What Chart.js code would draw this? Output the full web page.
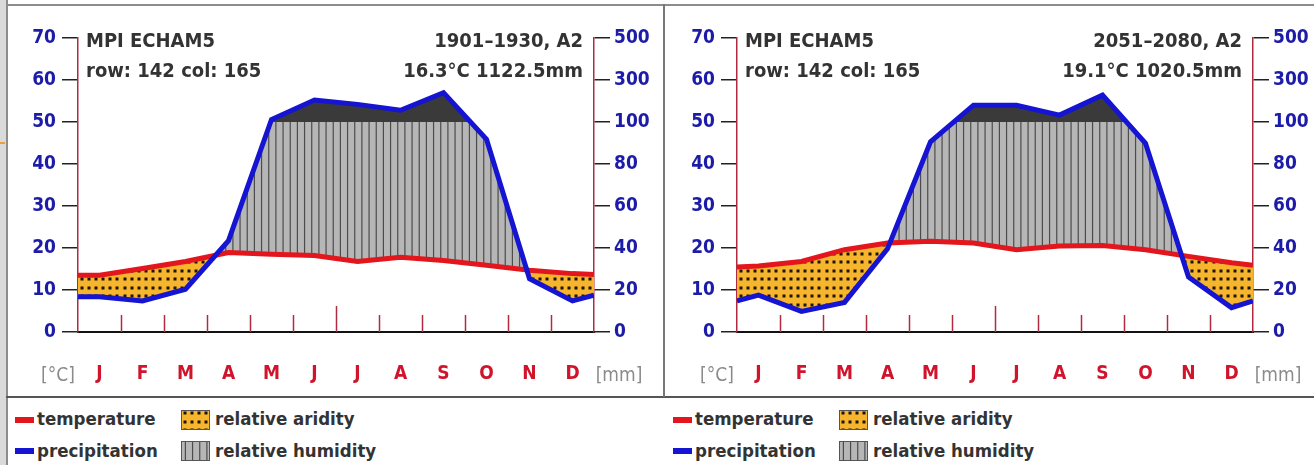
<!DOCTYPE html>
<html>
<head>
<meta charset="utf-8">
<script src="https://cdn.jsdelivr.net/npm/chart.js@4.4.1/dist/chart.umd.min.js"></script>
<style>
  body { margin: 0; width: 1314px; height: 465px; background: #fff; position: relative; overflow: hidden;
         font-family: 'DejaVu Sans Condensed', 'Liberation Sans Narrow', 'DejaVu Sans', sans-serif; }
  .abs { position: absolute; }
  canvas.chart { position: absolute; top: 6px; }
  .leg { position: absolute; font-weight: bold; font-size: 18.5px; color: #333; line-height: 20px; white-space: nowrap; }
</style>
</head>
<body>
<div class="abs" style="left:0;top:0;width:6px;height:465px;background:#dadada"></div>
<div class="abs" style="left:0;top:142px;width:5px;height:2px;background:#e8a040"></div>
<div class="abs" style="left:6px;top:0;width:2px;height:465px;background:#8c8c8c"></div>
<div class="abs" style="left:6px;top:4px;width:1308px;height:2px;background:#8c8c8c"></div>
<div class="abs" style="left:6px;top:396px;width:1308px;height:2px;background:#555"></div>
<div class="abs" style="left:663px;top:4px;width:2px;height:393px;background:#777"></div>

<canvas class="chart" id="chart-1901" width="655" height="390" style="left:8px"></canvas>
<canvas class="chart" id="chart-2051" width="649" height="390" style="left:665px"></canvas>

<div id="legend"></div>

<script>
const months = ['J', 'F', 'M', 'A', 'M', 'J', 'J', 'A', 'S', 'O', 'N', 'D'];

// 1901-1930, A2
const temp1901 = [13.5, 15.1, 16.8, 18.9, 18.5, 18.2, 16.8, 17.8, 17.0, 15.9, 14.7, 13.9];
const prec1901 = [16.8, 14.8, 20.4, 43.5, 112, 205, 184, 156, 240, 91.8, 25.4, 14.8];
const tempEdge1901 = [13.5, 13.7];   // value where the line meets the left / right frame
const precEdge1901 = [16.8, 17.6];

// 2051-2080, A2
const temp2051 = [15.7, 16.8, 19.6, 21.2, 21.6, 21.2, 19.6, 20.5, 20.6, 19.6, 18.0, 16.5];
const prec2051 = [17.6, 9.8, 14.1, 39.6, 90.6, 180, 180, 133, 228, 89.9, 26.2, 11.6];
const tempEdge2051 = [15.5, 15.9];
const precEdge2051 = [14.8, 14.8];

const tempTicks = [0, 10, 20, 30, 40, 50, 60, 70];
const mmTicks = ['0', '20', '40', '60', '80', '100', '300', '500'];

const FONT = "'DejaVu Sans Condensed', 'Liberation Sans Narrow', 'DejaVu Sans', sans-serif";
Chart.defaults.font.family = FONT;

const RED = '#e2161c', BLUE = '#1414d2', AXIS_RED = '#b02a40', TICK_BLUE = '#1c1ca8';
const MONTH_W = 43;
const TOP = 32, PLOT_H = 294;   // 4.2 px per degree keeps the 50 line on a whole pixel

// walter-lieth scale: 10 degC = 20 mm, above 100 mm compressed 1:20
const mmToScale = (mm) => mm <= 100 ? mm / 2 : 50 + (mm - 100) / 20;

const toPoints = (values, edges, conv) => {
    const f = conv || ((v) => v);
    const pts = [{x: 0, y: f(edges[0])}];
    values.forEach((v, i) => pts.push({x: i + 0.5, y: f(v)}));
    pts.push({x: 12, y: f(edges[1])});
    return pts;
};

const makeHumidity = (ctx, left) => {
    const c = document.createElement('canvas');
    c.width = MONTH_W; c.height = 4;
    const g = c.getContext('2d');
    g.fillStyle = '#b6b6b6';
    g.fillRect(0, 0, c.width, c.height);
    g.fillStyle = '#4c4c4c';
    for (let k = 0; k < 6; k++) {
        g.fillRect(4.4 + k * MONTH_W / 6 - 0.6, 0, 1.2, c.height);
    }
    const p = ctx.createPattern(c, 'repeat');
    p.setTransform(new DOMMatrix([1, 0, 0, 1, left, 0]));
    return p;
};

const makeAridity = (ctx, left, top) => {
    const c = document.createElement('canvas');
    c.width = MONTH_W; c.height = 17;
    const g = c.getContext('2d');
    g.fillStyle = '#f6b52c';
    g.fillRect(0, 0, c.width, c.height);
    g.fillStyle = '#1d1408';
    for (let k = 0; k < 6; k++) {
        for (let j = 0; j < 2; j++) {
            g.fillRect(Math.round(3.6 + k * MONTH_W / 6) - 1.5, Math.round(3 + j * 8.5) - 1.5, 3, 3);
        }
    }
    const p = ctx.createPattern(c, 'repeat');
    p.setTransform(new DOMMatrix([1, 0, 0, 1, left, top]));
    return p;
};

const frameDecor = {
    id: 'frameDecor',
    beforeDatasetsDraw(chart, args, opts) {
        const {ctx} = chart;
        const x = chart.scales.x, y = chart.scales.y;
        const y0 = y.getPixelForValue(0);
        ctx.save();
        ctx.strokeStyle = AXIS_RED;
        ctx.lineWidth = 1.5;
        for (let m = 1; m < 12; m++) {
            const px = Math.round(x.getPixelForValue(m)) + 0.5;
            ctx.beginPath();
            ctx.moveTo(px, y0);
            ctx.lineTo(px, y0 - (m === 6 ? 26 : 17));
            ctx.stroke();
        }
        ctx.restore();
    },
    afterDraw(chart, args, opts) {
        const {ctx, chartArea} = chart;
        ctx.save();
        ctx.font = 'bold 20px ' + FONT;
        ctx.fillStyle = '#333';
        ctx.textBaseline = 'alphabetic';
        ctx.textAlign = 'left';
        ctx.fillText(opts.model, chartArea.left + 8, 41);
        ctx.fillText(opts.cell, chartArea.left + 8, 71);
        ctx.textAlign = 'right';
        ctx.fillText(opts.period, chartArea.right - 11, 41);
        ctx.fillText(opts.stats, chartArea.right - 11, 71);

        ctx.font = '19px ' + FONT;
        ctx.fillStyle = '#8a8a8a';
        ctx.textAlign = 'center';
        ctx.fillText('[°C]', chartArea.left - 20, 375);
        ctx.fillText('[mm]', chartArea.right + 25, 375);
        ctx.restore();
    }
};

const buildChart = (id, temp, tempEdge, prec, precEdge, leftW, rightW, header) => {
    const ctx = document.getElementById(id).getContext('2d');
    const humid = makeHumidity(ctx, leftW);
    const arid = makeAridity(ctx, leftW, TOP);
    const precPts = toPoints(prec, precEdge, mmToScale);

    return new Chart(ctx, {
        type: 'line',
        data: {
            datasets: [
                {
                    label: 'temperature',
                    data: toPoints(temp, tempEdge),
                    borderColor: RED,
                    borderWidth: 5,
                    pointRadius: 0,
                    fill: false,
                    order: 2,
                },
                {
                    label: 'precipitation',
                    data: precPts,
                    borderColor: BLUE,
                    borderWidth: 5,
                    pointRadius: 0,
                    fill: {target: {value: 50}, above: '#3a3a3a', below: 'rgba(0,0,0,0)'},
                    order: 1,
                },
                {
                    label: 'humidity / aridity',
                    data: precPts,
                    borderWidth: 0,
                    borderColor: 'rgba(0,0,0,0)',
                    pointRadius: 0,
                    fill: {target: 0, above: humid, below: arid},
                    order: 3,
                }
            ]
        },
        options: {
            responsive: false,
            animation: false,
            layout: {padding: {top: TOP, left: 0, right: 0, bottom: 0}},
            plugins: {
                legend: {display: false},
                tooltip: {enabled: false},
                frameDecor: header,
            },
            scales: {
                x: {
                    type: 'linear',
                    min: 0,
                    max: 12,
                    afterBuildTicks: (s) => { s.ticks = months.map((m, i) => ({value: i + 0.5})); },
                    afterFit: (s) => { s.height = 390 - TOP - PLOT_H; },
                    grid: {display: false, drawTicks: false},
                    border: {display: true, color: '#111', width: 2},
                    ticks: {
                        autoSkip: false,
                        maxRotation: 0,
                        padding: 31,
                        color: '#d0142c',
                        font: {size: 19, weight: 'bold'},
                        callback: (v, i) => months[i],
                    },
                },
                y: {
                    position: 'left',
                    min: 0,
                    max: 70,
                    afterBuildTicks: (s) => { s.ticks = tempTicks.map((v) => ({value: v})); },
                    afterFit: (s) => { s.width = leftW; },
                    grid: {drawOnChartArea: false, tickLength: 16, color: '#222', lineWidth: 1.5},
                    border: {color: AXIS_RED, width: 1.5},
                    ticks: {padding: 6, color: TICK_BLUE, font: {size: 19, weight: 'bold'}},
                },
                y2: {
                    position: 'right',
                    min: 0,
                    max: 70,
                    afterBuildTicks: (s) => { s.ticks = tempTicks.map((v) => ({value: v})); },
                    afterFit: (s) => { s.width = rightW; },
                    grid: {drawOnChartArea: false, tickLength: 16, color: '#222', lineWidth: 1.5},
                    border: {color: AXIS_RED, width: 1.5},
                    ticks: {
                        padding: 4,
                        color: TICK_BLUE,
                        font: {size: 19, weight: 'bold'},
                        callback: (v, i) => mmTicks[i],
                    },
                },
            },
        },
        plugins: [frameDecor],
    });
};

buildChart('chart-1901', temp1901, tempEdge1901, prec1901, precEdge1901, 70, 69,
    {model: 'MPI ECHAM5', cell: 'row: 142 col: 165', period: '1901–1930, A2', stats: '16.3°C 1122.5mm'});
buildChart('chart-2051', temp2051, tempEdge2051, prec2051, precEdge2051, 72, 61,
    {model: 'MPI ECHAM5', cell: 'row: 142 col: 165', period: '2051–2080, A2', stats: '19.1°C 1020.5mm'});

// legend (one under each panel)
const legend = document.getElementById('legend');
const swatch = (left, top, w, h, draw) => {
    const c = document.createElement('canvas');
    c.width = w; c.height = h;
    c.className = 'abs';
    c.style.left = left + 'px';
    c.style.top = top + 'px';
    draw(c.getContext('2d'), w, h);
    legend.appendChild(c);
};
const label = (left, top, text) => {
    const d = document.createElement('div');
    d.className = 'leg';
    d.style.left = left + 'px';
    d.style.top = top + 'px';
    d.textContent = text;
    legend.appendChild(d);
};
[0, 658].forEach((dx) => {
    swatch(15 + dx, 417, 19, 6, (g, w, h) => { g.fillStyle = RED; g.fillRect(0, 0, w, h); });
    swatch(15 + dx, 448, 19, 6, (g, w, h) => { g.fillStyle = BLUE; g.fillRect(0, 0, w, h); });
    swatch(181 + dx, 410, 29, 20, (g, w, h) => {
        g.fillStyle = makeAridity(g, 0, 0); g.fillRect(0, 0, w, h);
        g.strokeStyle = '#555'; g.lineWidth = 1; g.strokeRect(0.5, 0.5, w - 1, h - 1);
    });
    swatch(181 + dx, 441, 29, 20, (g, w, h) => {
        g.fillStyle = makeHumidity(g, 0); g.fillRect(0, 0, w, h);
        g.strokeStyle = '#555'; g.lineWidth = 1; g.strokeRect(0.5, 0.5, w - 1, h - 1);
    });
    label(37 + dx, 409, 'temperature');
    label(37 + dx, 441, 'precipitation');
    label(215 + dx, 409, 'relative aridity');
    label(215 + dx, 441, 'relative humidity');
});
</script>
</body>
</html>
